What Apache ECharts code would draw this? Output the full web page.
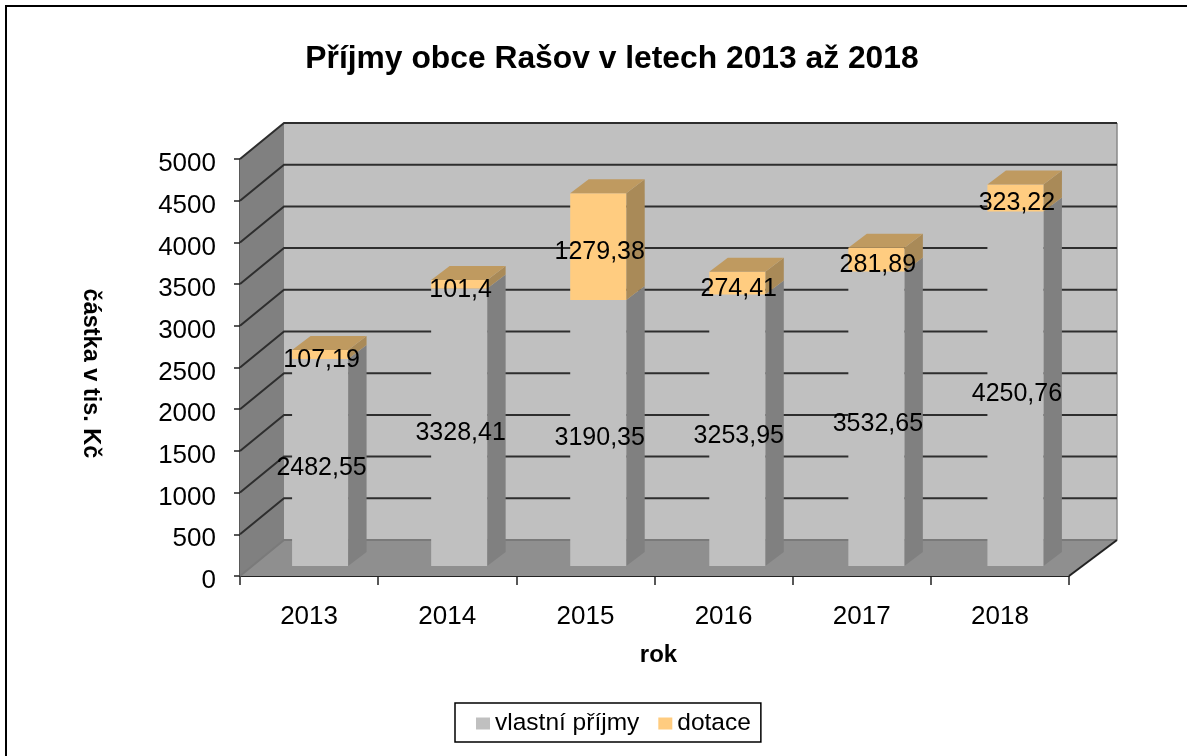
<!DOCTYPE html>
<html><head><meta charset="utf-8">
<style>html,body{margin:0;padding:0;background:#fff}#c{width:1187px;height:756px}</style>
<script src="https://cdn.jsdelivr.net/npm/echarts@6/dist/echarts.min.js"></script>
</head><body><div id="c"></div>
<script>
const categories = ['2013','2014','2015','2016','2017','2018'];
const vlastni = [2482.55,3328.41,3190.35,3253.95,3532.65,4250.76];
const dotace = [107.19,101.4,1279.38,274.41,281.89,323.22];
const yTicks = [0,500,1000,1500,2000,2500,3000,3500,4000,4500,5000];
const seriesNames = ['vlastní příjmy','dotace'];

const FONT = '"Liberation Sans", Arial, sans-serif';
const GRAY = {front:'#c0c0c0', side:'#808080', top:'#909090'};
const ORANGE = {front:'#ffcc80', side:'#a98a58', top:'#bf9a60'};
const DX = 44, DX_R = 48, DY = 36;       // wall depth
const BW = 56, BDX = 18.5, BDY = 14;     // bar width and depth
const OY = 10;                           // bar inset from front plane

const fmt = v => String(v).replace('.', ',');
const poly = (pts, fill) => ({type:'polygon', shape:{points:pts}, style:{fill}});
const line = (pts, stroke, w) => ({type:'polyline', shape:{points:pts}, style:{stroke, lineWidth:w, fill:'none'}});

function renderWalls(params, api){
  const [lx, by] = api.coord([0, 0]);
  const [rx] = api.coord([6, 0]);
  const ty = api.coord([0, 5000])[1];
  return {type:'group', children:[
    poly([[lx+DX,ty-DY],[rx+DX_R,ty-DY],[rx+DX_R,by-DY],[lx+DX,by-DY]], '#c0c0c0'),
    poly([[lx,ty],[lx+DX,ty-DY],[lx+DX,by-DY],[lx,by]], '#808080'),
    poly([[lx,by],[rx,by],[rx+DX_R,by-DY],[lx+DX,by-DY]], '#8f8f8f'),
    line([[rx+DX_R,ty-DY],[rx+DX_R,by-DY]], '#8a8a8a', 1.5)
  ]};
}
function renderGrid(params, api){
  const v = api.value(0);
  const [lx, y] = api.coord([0, v]);
  const [rx] = api.coord([6, v]);
  const c = v === 0 ? '#7a7a7a' : '#2e2e2e';
  return {type:'group', children:[
    line([[lx,y],[lx+DX,y-DY],[rx+DX_R,y-DY]], c, 2)
  ]};
}
function renderFront(params, api){
  const [lx, y] = api.coord([0, 0]);
  const [rx] = api.coord([6, 0]);
  return {type:'group', children:[
    line([[rx,y],[rx+DX_R,y-DY]], '#222', 2)
  ]};
}
function barCenter(i, api){ return api.coord([i+0.5, 0])[0] + 11 + 0.9*i; }
function renderBar(params, api){
  const i = api.value(0), lo = api.value(1), hi = api.value(2);
  const col = params.seriesName === seriesNames[0] ? GRAY : ORANGE;
  const cx = barCenter(i, api);
  const y0 = api.coord([i, lo])[1] - OY;
  const y1 = api.coord([i, hi])[1] - OY;
  const l = cx - BW/2, r = cx + BW/2;
  const kids = [
    poly([[r,y0],[r+BDX,y0-BDY],[r+BDX,y1-BDY],[r,y1]], col.side),
    poly([[l,y0],[r,y0],[r,y1],[l,y1]], col.front)
  ];
  if(col === ORANGE) kids.push(poly([[l,y1],[r,y1],[r+BDX,y1-BDY],[l+BDX,y1-BDY]], col.top));
  return {type:'group', children:kids};
}
function renderLabel(params, api){
  const i = api.value(0), lo = api.value(1), hi = api.value(2);
  const cx = barCenter(i, api) + 1.5;
  const ym = (api.coord([i, lo])[1] + api.coord([i, hi])[1]) / 2 - OY + 5.5;
  return {type:'text', style:{x:cx, y:ym, text:fmt(api.value(3)), font:'25px '+FONT, fill:'#000', align:'center', verticalAlign:'middle'}};
}

const grayData = categories.map((c,i)=>[i,0,vlastni[i]]);
const orangeData = categories.map((c,i)=>[i,vlastni[i],vlastni[i]+dotace[i]]);
const grayLabels = categories.map((c,i)=>[i,0,vlastni[i],vlastni[i]]);
const orangeLabels = categories.map((c,i)=>[i,vlastni[i],vlastni[i]+dotace[i],dotace[i]]);
const enc = {x:0, y:2};

const chart = echarts.init(document.getElementById('c'), null, {renderer:'canvas'});
chart.setOption({
  animation:false,
  backgroundColor:'#fff',
  title:{text:'Příjmy obce Rašov v letech 2013 až 2018', left:607, top:38, textAlign:'center',
    textStyle:{fontFamily:FONT, fontSize:31.8, fontWeight:'bold', color:'#000'}},
  grid:{left:240, top:159, width:829, height:417},
  legend:{left:455, top:703, padding:[8,10,6,21], itemGap:19, itemWidth:14, itemHeight:12, icon:'rect',
    borderColor:'#000', borderWidth:1.5, selectedMode:false,
    data:seriesNames, textStyle:{fontFamily:FONT, fontSize:24.5, color:'#000'}},
  graphic:{elements:[
    {type:'rect', silent:true, shape:{x:6,y:6,width:1300,height:900}, style:{fill:'none',stroke:'#000',lineWidth:2}}
  ]},
  xAxis:[
    {type:'value', min:0, max:6, interval:1, position:'bottom', name:'rok', nameLocation:'middle', nameGap:67,
     nameTextStyle:{fontFamily:FONT, fontSize:24, fontWeight:'bold', color:'#000', padding:[0,0,0,8]},
     axisLine:{show:true, onZero:false, lineStyle:{color:'#222', width:2}},
     axisTick:{show:true, inside:false, length:9, lineStyle:{color:'#222', width:1.5}},
     splitLine:{show:false}, axisLabel:{show:false}},
    {type:'category', data:categories, position:'bottom', axisLine:{show:false}, axisTick:{show:false},
     axisLabel:{show:true, margin:28, fontFamily:FONT, fontSize:26, color:'#000'}}
  ],
  yAxis:{type:'value', min:0, max:5000, interval:500, name:'částka v tis. Kč', nameLocation:'middle', nameGap:136, nameRotate:-90,
    nameTextStyle:{fontFamily:FONT, fontSize:23.5, fontWeight:'bold', color:'#000', padding:[0,0,0,12]},
    offset:2,
    axisLine:{show:true, lineStyle:{color:'#222', width:1.5}},
    axisTick:{show:true, length:6, lineStyle:{color:'#222', width:1.5}},
    splitLine:{show:false},
    axisLabel:{margin:22, formatter:v=>'{t|'+v+'}',
      rich:{t:{fontFamily:FONT, fontSize:26, color:'#000', padding:[10,0,0,0]}}}},
  series:[
    {type:'custom', renderItem:renderWalls, data:[[0,0]], encode:{x:0,y:1}, z:1, silent:true, clip:false},
    {type:'custom', renderItem:renderGrid, data:yTicks.map(v=>[v]), encode:{y:0}, z:2, silent:true, clip:false},
    {type:'custom', renderItem:renderFront, data:[[0,0]], encode:{x:0,y:1}, z:2, silent:true, clip:false},
    {type:'custom', name:seriesNames[0], renderItem:renderBar, data:grayData, encode:enc, z:3, clip:false, itemStyle:{color:GRAY.front}},
    {type:'custom', name:seriesNames[1], renderItem:renderBar, data:orangeData, encode:enc, z:4, clip:false, itemStyle:{color:ORANGE.front}},
    {type:'custom', renderItem:renderLabel, data:grayLabels, encode:enc, z:5, clip:false},
    {type:'custom', renderItem:renderLabel, data:orangeLabels, encode:enc, z:5, clip:false}
  ]
});
</script></body></html>
